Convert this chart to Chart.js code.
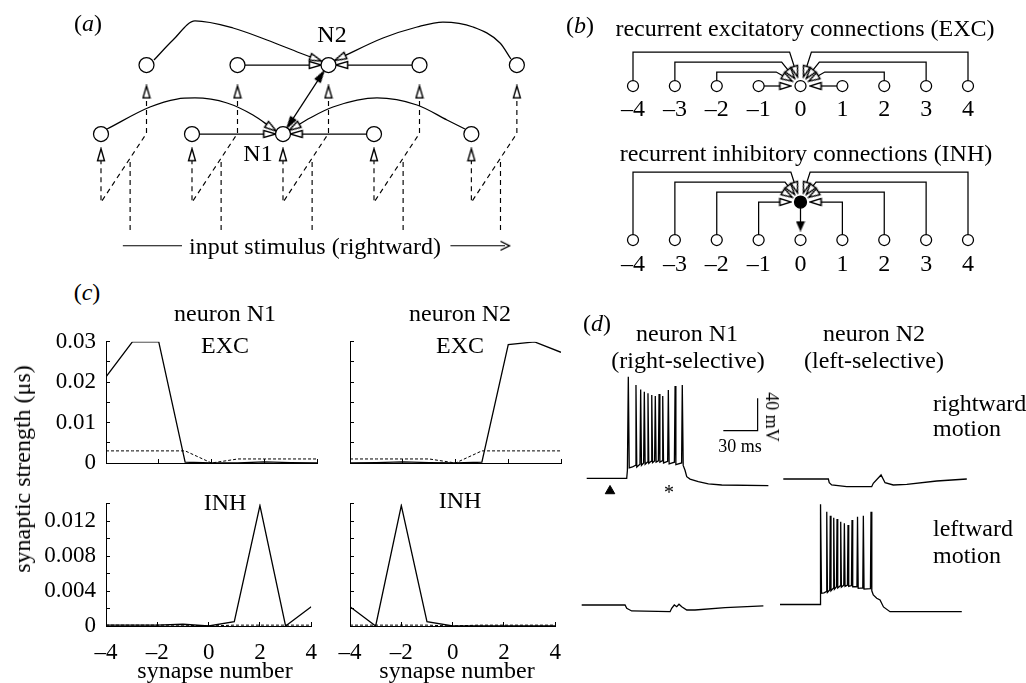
<!DOCTYPE html>
<html>
<head>
<meta charset="utf-8">
<title>Direction-selective network</title>
<script src="https://cdn.jsdelivr.net/npm/chart.js@4.4.1/dist/chart.umd.min.js"></script>
<style>
  body { margin: 0; width: 1026px; height: 683px; position: relative; overflow: hidden; background: #fff; font-family: "Liberation Serif", serif; }
  canvas { position: absolute; }
  .lbl { position: absolute; white-space: nowrap; color: #000; font-size: 24px; line-height: 1; transform: translate(-50%, -50%); }
</style>
</head>
<body>
<script>
// ---------- (c) learned synaptic strengths (uS), synapse -4..4
const synapses   = [-4, -3, -2, -1, 0, 1, 2, 3, 4];
const n1Exc      = [0.0213, 0.0300, 0.0300, 0.0002, 0.0000, 0.0000, 0.0003, 0.0001, 0.0000];
const n1ExcStart = [0.0030, 0.0030, 0.0030, 0.0030, 0.0000, 0.0010, 0.0010, 0.0010, 0.0010];
const n1Inh      = [0.0001, 0.0001, 0.0001, 0.0002, 0.0000, 0.0005, 0.0138, 0.0000, 0.0022];
const n1InhStart = [0.0001, 0.0001, 0.0001, 0.0001, 0.0000, 0.0001, 0.0001, 0.0001, 0.0001];
const n2Exc      = [0.0000, 0.0001, 0.0003, 0.0001, 0.0000, 0.0002, 0.0293, 0.0300, 0.0274];
const n2ExcStart = [0.0010, 0.0010, 0.0010, 0.0010, 0.0000, 0.0030, 0.0030, 0.0030, 0.0030];
const n2Inh      = [0.0022, 0.0000, 0.0138, 0.0005, 0.0000, 0.0000, 0.0000, 0.0000, 0.0000];
const n2InhStart = [0.0001, 0.0001, 0.0001, 0.0001, 0.0000, 0.0001, 0.0001, 0.0001, 0.0001];

// ---------- (d) membrane potential, time (ms) / voltage (mV)
const n1RightT = [0, 35.0, 35.6, 36.4, 37.2, 40.0, 42.5, 43.1, 43.8, 46.6, 47.2, 47.9, 49.8, 50.4, 51.1, 53.0, 53.6, 54.3, 56.3, 56.9, 57.6, 59.4, 60.0, 60.7, 62.7, 63.3, 64.0, 65.9, 66.5, 67.2, 70.8, 71.4, 72.1, 76.7, 77.3, 78.0, 83.0, 83.6, 84.4, 86.0, 87.5, 90.4, 97.6, 106.4, 118.1, 158.9];
const n1RightV = [-65, -65, -55, 60.7, -52, -51, -49, 50.5, -51, -47.5, 45.1, -49, -46, 42.2, -47.5, -45, 40.2, -46.5, -44, 38.1, -45.5, -43.5, 36.9, -45, -43.5, 39.3, -45, -43.5, 36.9, -46, -44, 44.3, -47, -45, 49.2, -48, -46, 50.5, -49, -55, -63, -66, -69.2, -72, -73.3, -74.1];
const n2RightT = [0, 39.4, 40.2, 42.3, 55.5, 77.3, 78.7, 85.5, 89.0, 96.2, 108.0, 134.2, 160.5];
const n2RightV = [-65, -65, -69.5, -72.4, -74.5, -74.5, -70.3, -60.0, -69.6, -72.4, -71.6, -67.5, -65];
const n1LeftT  = [0, 37.9, 39.4, 43.7, 77.3, 78.7, 81.0, 83.1, 85.1, 87.5, 91.9, 99.1, 125.4, 158.9];
const n1LeftV  = [-65, -65, -69.1, -72.4, -73.3, -69.1, -65, -67.1, -64.1, -67.1, -71.2, -71.2, -68.3, -66.2];
const n2LeftT  = [0, 35.0, 35.3, 35.6, 36.3, 38.5, 40.4, 40.9, 41.5, 43.5, 44.0, 44.6, 46.5, 47.0, 47.6, 49.4, 49.9, 50.5, 52.6, 53.1, 53.7, 55.8, 56.3, 56.9, 59.0, 59.5, 60.1, 62.5, 63.0, 63.6, 67.3, 67.8, 68.4, 72.4, 72.9, 73.5, 79.1, 79.6, 80.3, 81.6, 84.6, 87.5, 90.5, 96.2, 159.0];
const n2LeftV  = [-65, -65, -53, 59.0, -51, -50.5, -49, 49.9, -50, -47, 44.9, -48, -45, 42.4, -46, -43, 40.8, -44.5, -42, 37.5, -43.5, -41, 35.5, -42.5, -41, 33.4, -42.5, -41.5, 39.6, -43, -43, 43.7, -45, -44.5, 44.9, -46, -45.5, 49.9, -48, -53.2, -57.3, -59.4, -68, -73.9, -73.9];
const scaleBarMs = 30, scaleBarMv = 40, scaleBarAt = [119.5, -6];
const stimMarkAt = [20.4, -80.7];

// ---------- (a) network sketch: x in neuron spacings, y in row spacings
const aPairX = [0, 1, 2, 3, 4.07];
const aTopShift = 0.5;
const aArcTopLeftX  = [0.582, 0.791, 1.033, 1.451, 1.824, 2.187, 2.363];
const aArcTopLeftY  = [1.072, 1.362, 1.638, 1.536, 1.362, 1.174, 1.087];
const aArcTopRightX = [2.626, 3.099, 3.473, 3.758, 4.088, 4.385, 4.505];
const aArcTopRightY = [1.101, 1.391, 1.551, 1.623, 1.551, 1.319, 1.087];
const aArcLowLeftX  = [0.066, 0.538, 0.835, 1.033, 1.385, 1.670, 1.874];
const aArcLowLeftY  = [0.072, 0.391, 0.507, 0.522, 0.449, 0.275, 0.090];
const aArcLowRightX = [2.122, 2.297, 2.549, 3.033, 3.473, 3.802, 4.000];
const aArcLowRightY = [0.096, 0.232, 0.391, 0.522, 0.420, 0.203, 0.072];
const aSideGap = 0.145;
const aDelayY = [0.61, 0.01, -0.99, -0.30];
const aStimShift = 0.32, aStimY = [-1.39, -0.35];
const aCoupleX = [2.078, 2.416], aCoupleY = [0.158, 0.842];
const aInputY = -1.62, aInputLeftX = [0.24, 0.89], aInputRightX = [3.84, 4.44];

// ---------- (b) connection scheme: x in synapse number
const bSyn = synapses;
const bFanX = [0.36, 0.31, 0.22, 0.11];
const bFanY = [0, 0.75, 1.18, 1.43];
const bExcLevel = [0, 1.4, 2.4, 3.4];
const bExcBendX = [0.36, 0.58, 0.45, 0.26];
const bInhRowY = -15.4, bInhHubY = -11.6;
const bInhLevel = [0, 1.0, 2.0, 3.0];
const bInhBendX = [0.36, 0.41, 0.37, 0.23];
const bOutY = -2.4;

const ink = '#000';
const serif = 'Liberation Serif';
const common = {
    responsive: false, animation: false, devicePixelRatio: 1, events: [],
    layout: { padding: 0, autoPadding: false },
    plugins: { legend: { display: false }, tooltip: { enabled: false } }
};

function addCanvas(left, top, w, h) {
    const c = document.createElement('canvas');
    c.width = w; c.height = h;
    c.style.left = left + 'px'; c.style.top = top + 'px';
    c.style.width = w + 'px'; c.style.height = h + 'px';
    document.body.appendChild(c);
    return c;
}

function addText(html, x, y, size, style) {
    const d = document.createElement('div');
    d.className = 'lbl';
    d.innerHTML = html;
    d.style.left = x + 'px'; d.style.top = y + 'px';
    if (size) d.style.fontSize = size + 'px';
    if (style) Object.assign(d.style, style);
    document.body.appendChild(d);
}

// arrow head images, drawn pointing up
function arrowHead(w, h, fill) {
    const c = document.createElement('canvas');
    c.width = w + 3; c.height = h + 3;
    const g = c.getContext('2d');
    g.beginPath();
    g.moveTo(c.width / 2, 1.5); g.lineTo(w + 1.5, h + 1.5); g.lineTo(1.5, h + 1.5); g.closePath();
    g.fillStyle = fill; g.fill();
    g.lineWidth = 1.4; g.strokeStyle = ink; g.stroke();
    return c;
}
function veeHead(w, h) {
    const c = document.createElement('canvas');
    c.width = w + 3; c.height = h + 3;
    const g = c.getContext('2d');
    g.beginPath();
    g.moveTo(1.5, h + 1.5); g.lineTo(c.width / 2, 1.5); g.lineTo(w + 1.5, h + 1.5);
    g.lineWidth = 1.3; g.strokeStyle = ink; g.stroke();
    return c;
}

// rotation of a head so it points away from (fx, fy)
function heading(c) {
    const p = c.raw;
    if (!p || p.fx === undefined) return 0;
    const sx = c.chart.scales.x, sy = c.chart.scales.y;
    const dx = sx.getPixelForValue(p.x) - sx.getPixelForValue(p.fx);
    const dy = sy.getPixelForValue(p.y) - sy.getPixelForValue(p.fy);
    return Math.atan2(dy, dx) * 180 / Math.PI + 90;
}

function path(xs, ys, extra) {
    return Object.assign({
        data: xs.map((x, i) => ({ x, y: ys[i] })), showLine: true, pointRadius: 0,
        borderColor: ink, borderWidth: 1.25, tension: 0, order: 2
    }, extra);
}
function endTip(xs, ys) {
    const n = xs.length;
    return { x: xs[n - 1], y: ys[n - 1], fx: xs[n - 2], fy: ys[n - 2] };
}
function startTip(xs, ys) {
    return { x: xs[0], y: ys[0], fx: xs[1], fy: ys[1] };
}
function heads(tips, img) {
    return { data: tips, showLine: false, pointStyle: img, pointRadius: 4, pointRotation: heading, order: 1 };
}
function nodes(xs, ys, r, fill) {
    return {
        data: xs.map((x, i) => ({ x, y: ys[i] })), showLine: false, pointStyle: 'circle', pointRadius: r,
        pointBackgroundColor: fill, pointBorderColor: ink, pointBorderWidth: 1.25, order: 0
    };
}

// chart with hidden linear axes, placed so that (0,0) lands on origin
function sketch(left, top, w, h, origin, unit, datasets) {
    const cv = addCanvas(left, top, w, h);
    return new Chart(cv, {
        type: 'scatter',
        data: { datasets },
        options: Object.assign({}, common, {
            scales: {
                x: { type: 'linear', display: false, min: (left - origin.x) / unit.x, max: (left + w - origin.x) / unit.x },
                y: { type: 'linear', display: false, min: (origin.y - top - h) / unit.y, max: (origin.y - top) / unit.y }
            }
        })
    });
}

const dashed = { borderDash: [5, 4], borderWidth: 1.15 };
const arc = { cubicInterpolationMode: 'monotone' };

// ================= (a)
(function () {
    const low = aPairX, top = aPairX.map(x => x + aTopShift);
    const n1 = low[2], n2 = top[2];
    const sets = [], open = [], solid = [];
    sets.push(path(aArcTopLeftX, aArcTopLeftY, arc), path(aArcLowLeftX, aArcLowLeftY, arc),
        path(aArcTopRightX, aArcTopRightY, arc), path(aArcLowRightX, aArcLowRightY, arc));
    open.push(endTip(aArcTopLeftX, aArcTopLeftY), endTip(aArcLowLeftX, aArcLowLeftY),
        startTip(aArcTopRightX, aArcTopRightY), startTip(aArcLowRightX, aArcLowRightY));
    [[top[1], n2 - aSideGap, 1], [top[3], n2 + aSideGap, 1], [low[1], n1 - aSideGap, 0], [low[3], n1 + aSideGap, 0]]
        .forEach(([from, to, y]) => { const xs = [from, to], ys = [y, y]; sets.push(path(xs, ys)); open.push(endTip(xs, ys)); });
    low.forEach((xb, k) => {
        const xt = top[k];
        const xs = [xt, xt, xb, xb];
        sets.push(path(xs, aDelayY, dashed));
        open.push({ x: xt, y: aDelayY[0], fx: xt, fy: aDelayY[1] }, endTip(xs, aDelayY));
        const xsStim = xb + aStimShift;
        sets.push(path([xsStim, xsStim], aStimY, dashed));
    });
    sets.push(path(aCoupleX, aCoupleY));
    solid.push(endTip(aCoupleX, aCoupleY), startTip(aCoupleX, aCoupleY));
    const inY = [aInputY, aInputY];
    sets.push(path(aInputLeftX, inY, { borderWidth: 1.1 }), path(aInputRightX, inY, { borderWidth: 1.1 }));
    sets.push(nodes(low, low.map(() => 0), 7.5, '#fff'), nodes(top, top.map(() => 1), 7.5, '#fff'));
    sets.push(heads(open, arrowHead(7, 12, '#fff')), heads(solid, arrowHead(6, 11, ink)),
        heads([endTip(aInputRightX, inY)], veeHead(9, 9)));
    sketch(0, 0, 545, 270, { x: 101, y: 134 }, { x: 91, y: 69 }, sets);

    addText('(<i>a</i>)', 88, 23);
    addText('N2', 332, 34);
    addText('N1', 258, 153);
    addText('input stimulus (rightward)', 315, 246);
})();

// ================= (b)
(function () {
    const sets = [], open = [], solid = [];
    [-1, 1].forEach(sg => {
        for (let d = 1; d <= 4; d++) {
            const i = d - 1;
            let xs, ys;
            if (d === 1) { xs = [sg, sg * bFanX[0]]; ys = [0, bFanY[0]]; }
            else { xs = [sg * d, sg * d, sg * bExcBendX[i], sg * bFanX[i]]; ys = [0, bExcLevel[i], bExcLevel[i], bFanY[i]]; }
            sets.push(path(xs, ys)); open.push(endTip(xs, ys));
            if (d === 1) { xs = [sg, sg, sg * bFanX[0]]; ys = [bInhRowY, bInhHubY, bInhHubY]; }
            else {
                const lv = bInhHubY + bInhLevel[i];
                xs = [sg * d, sg * d, sg * bInhBendX[i], sg * bFanX[i]]; ys = [bInhRowY, lv, lv, bInhHubY + bFanY[i]];
            }
            sets.push(path(xs, ys)); open.push(endTip(xs, ys));
        }
    });
    const outX = [0, 0], outY = [bInhHubY, bInhHubY + bOutY];
    sets.push(path(outX, outY)); solid.push(endTip(outX, outY));
    sets.push(nodes(bSyn, bSyn.map(() => 0), 5.5, '#fff'), nodes(bSyn, bSyn.map(() => bInhRowY), 5.5, '#fff'),
        nodes([0], [bInhHubY], 6, ink));
    sets.push(heads(open, arrowHead(7, 11, '#fff')), heads(solid, arrowHead(7, 8, ink)));
    const left = 560;
    const ch = sketch(left, 30, 466, 245, { x: 800.5, y: 86 }, { x: 41.875, y: 10 }, sets);

    const num = s => (s < 0 ? '–' + (-s) : String(s));
    bSyn.forEach(s => {
        const x = left + ch.scales.x.getPixelForValue(s);
        addText(num(s), x, 108);
        addText(num(s), x, 263);
    });
    addText('(<i>b</i>)', 580, 25);
    addText('recurrent excitatory connections (EXC)', 805, 28);
    addText('recurrent inhibitory connections (INH)', 806, 153);
})();

// ================= (c)
function strengthChart(box, yMax, yStep, yLabelStep, solid, start, showY, showX) {
    const padL = 80, padT = 14, padR = 12, padB = 40;
    const cv = addCanvas(box.x - padL, box.y - padT, padL + box.w + padR, padT + box.h + padB);
    const tickFont = { family: serif, size: 23 };
    new Chart(cv, {
        type: 'scatter',
        data: {
            datasets: [
                path(synapses, solid, { borderWidth: 1.3 }),
                path(synapses, start, { borderWidth: 1, borderDash: [3, 2] })
            ]
        },
        options: Object.assign({}, common, {
            layout: { padding: { top: padT, right: padR, left: 0, bottom: 0 }, autoPadding: false },
            scales: {
                x: {
                    type: 'linear', min: -4, max: 4,
                    afterFit: s => { s.height = padB; },
                    ticks: {
                        stepSize: 2, autoSkip: false, maxRotation: 0, padding: 17, color: ink, font: tickFont,
                        callback: v => showX ? (v < 0 ? '–' + (-v) : String(v)) : ''
                    },
                    grid: { drawOnChartArea: false, tickLength: -4, color: ink },
                    border: { color: ink, width: 1 }
                },
                y: {
                    type: 'linear', min: 0, max: yMax,
                    afterFit: s => { s.width = padL; },
                    ticks: {
                        stepSize: yStep, autoSkip: false, padding: 14, color: ink, font: tickFont,
                        callback: v => {
                            if (!showY) return '';
                            const k = v / yLabelStep;
                            if (Math.abs(k - Math.round(k)) > 1e-6) return '';
                            return v === 0 ? '0' : String(+v.toFixed(4));
                        }
                    },
                    grid: { drawOnChartArea: false, tickLength: -4, color: ink },
                    border: { color: ink, width: 1 }
                }
            }
        })
    });
}

strengthChart({ x: 106, y: 328, w: 216, h: 135 }, 0.03, 0.005, 0.01, n1Exc, n1ExcStart, true, false);
strengthChart({ x: 106, y: 490, w: 216, h: 136 }, 0.014, 0.002, 0.004, n1Inh, n1InhStart, true, true);
strengthChart({ x: 350, y: 328, w: 216, h: 135 }, 0.03, 0.005, 0.01, n2Exc, n2ExcStart, false, false);
strengthChart({ x: 350, y: 490, w: 216, h: 136 }, 0.014, 0.002, 0.004, n2Inh, n2InhStart, false, true);

addText('(<i>c</i>)', 87, 292);
addText('neuron N1', 225, 313);
addText('EXC', 225, 345);
addText('INH', 225, 502);
addText('neuron N2', 460, 313);
addText('EXC', 460, 345);
addText('INH', 460, 500);
addText('synaptic strength (μs)', 22, 469, null, { transform: 'translate(-50%, -50%) rotate(-90deg)' });
addText('synapse number', 215, 670);
addText('synapse number', 457, 670);

// ================= (d)
const pxPerMs = 34.3 / scaleBarMs, pxPerMv = 32.3 / scaleBarMv;
function traceChart(t, v, startX, restY, left, top, w, h, extra) {
    const origin = { x: startX, y: restY - 65 * pxPerMv };
    const sets = [path(t, v, { borderWidth: 1.3 })].concat(extra || []);
    sketch(left, top, w, h, origin, { x: pxPerMs, y: pxPerMv }, sets);
}
const barX = [scaleBarAt[0], scaleBarAt[0] + scaleBarMs, scaleBarAt[0] + scaleBarMs];
const barY = [scaleBarAt[1], scaleBarAt[1], scaleBarAt[1] + scaleBarMv];
traceChart(n1RightT, n1RightV, 586.7, 478.3, 576, 360, 200, 142, [
    path(barX, barY, { borderWidth: 1.2 }),
    { data: [{ x: stimMarkAt[0], y: stimMarkAt[1] }], showLine: false, pointStyle: 'triangle', pointRadius: 5.5,
      pointBackgroundColor: ink, pointBorderColor: ink, pointBorderWidth: 1, order: 0 }
]);
traceChart(n2RightT, n2RightV, 783.3, 479, 773, 380, 200, 120);
traceChart(n1LeftT, n1LeftV, 581.7, 605, 572, 560, 200, 70);
traceChart(n2LeftT, n2LeftV, 780, 604.5, 770, 490, 200, 135);

addText('(<i>d</i>)', 597, 323);
addText('neuron N1', 687, 333);
addText('(right-selective)', 688, 360);
addText('neuron N2', 874, 333);
addText('(left-selective)', 874, 360);
const leftAligned = { transform: 'translate(0, -50%)' };
addText('rightward', 933, 403, null, leftAligned);
addText('motion', 933, 428, null, leftAligned);
addText('leftward', 933, 528, null, leftAligned);
addText('motion', 933, 555, null, leftAligned);
addText('30 ms', 740, 446, 18);
addText('40 mV', 772, 417, 18, { transform: 'translate(-50%, -50%) rotate(90deg)' });
addText('*', 669, 492, 20);
</script>
</body>
</html>
